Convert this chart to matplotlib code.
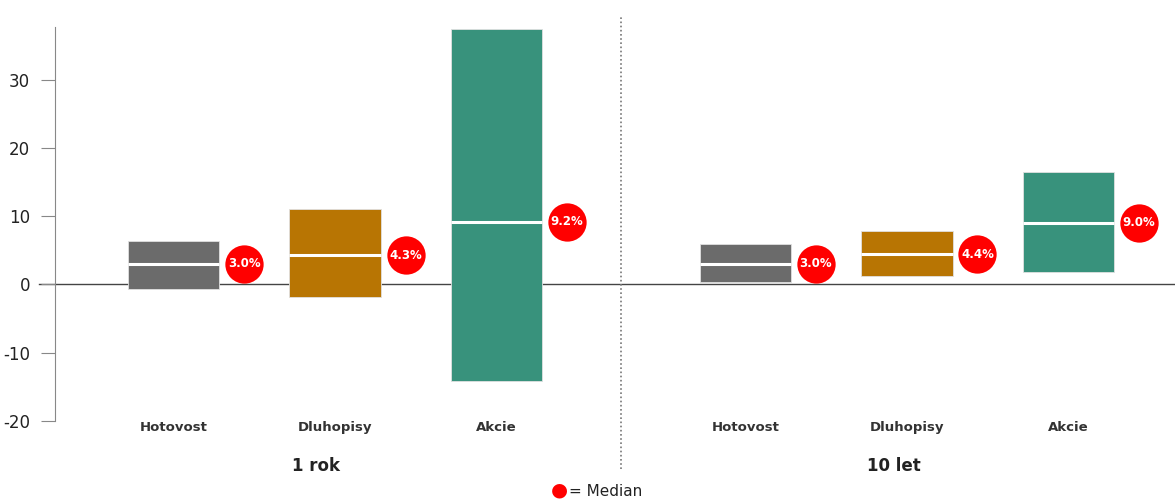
import matplotlib.pyplot as plt
import numpy as np

plt.rcParams["axes.unicode_minus"] = False

# data (return ranges in %)
groups = ["1 rok", "10 let"]
assets = ["Hotovost", "Dluhopisy", "Akcie"]
low_1y = [-0.6, -1.8, -14.2]
high_1y = [6.3, 11.1, 37.4]
med_1y = [3.0, 4.3, 9.2]
low_10y = [0.3, 1.2, 1.8]
high_10y = [5.9, 7.8, 16.4]
med_10y = [3.0, 4.4, 9.0]
colors = ["#6b6b6b", "#b87503", "#38927c"]

fig = plt.figure(figsize=(11.75, 4.99), dpi=100)
ax = fig.add_axes([55 / 1175, 78 / 499, 1120 / 1175, 394 / 499])

gap = 1.54
width = 0.565
off = 0.437
lows = [low_1y, low_10y]
highs = [high_1y, high_10y]
meds = [med_1y, med_10y]
title_shift = [-0.12, -0.08]

for g in range(2):
    xs = np.arange(3) + g * (2 + gap)
    for i, x in enumerate(xs):
        lo, hi, md = lows[g][i], highs[g][i], meds[g][i]
        ax.bar(x, hi - lo, bottom=lo, width=width, color=colors[i],
               edgecolor="#e0e0e0", linewidth=0.6, zorder=2)
        ax.plot([x - width / 2, x + width / 2], [md, md], color="white",
                lw=2.2, solid_capstyle="butt", zorder=3)
        ax.scatter(x + off, md, s=760, color="#ff0000", zorder=4,
                   linewidths=0)
        ax.text(x + off, md, f"{md:.1f}%", color="white", fontsize=8.5,
                fontweight="bold", ha="center", va="center", zorder=5)
        ax.text(x, -21.0, assets[i], ha="center", va="center", fontsize=9.5,
                fontweight="bold", color="#333333")
    ax.text(xs[1] + title_shift[g], -26.6, groups[g], ha="center",
            va="center", fontsize=12, fontweight="bold", color="#222222")

# zero line and group separator
ax.axhline(0, color="#444444", lw=1, zorder=1, xmin=-0.014, clip_on=False)
sep = 2 + gap / 2
ax.plot([sep, sep], [-27, 39.4], ls=(0, (1, 1.5)), color="#777777",
        lw=1.2, clip_on=False, zorder=1)

ax.set_xlim(-0.734, 6.2)
ax.set_ylim(-20, 37.7)
ax.set_yticks([-20, -10, 0, 10, 20, 30])
ax.set_xticks([])
ax.tick_params(axis="y", length=10, color="#888888", labelsize=12,
               labelcolor="#222222", pad=8)
for s in ["top", "right", "bottom"]:
    ax.spines[s].set_visible(False)
ax.spines["left"].set_color("#888888")

# legend at the bottom
fig.text(0.476, 0.018, "\u25CF", color="#ff0000", fontsize=14,
         ha="center", va="center")
fig.text(0.484, 0.016, "= Median", color="#222222", fontsize=11,
         ha="left", va="center")

fig.savefig("out.png", dpi=100)
